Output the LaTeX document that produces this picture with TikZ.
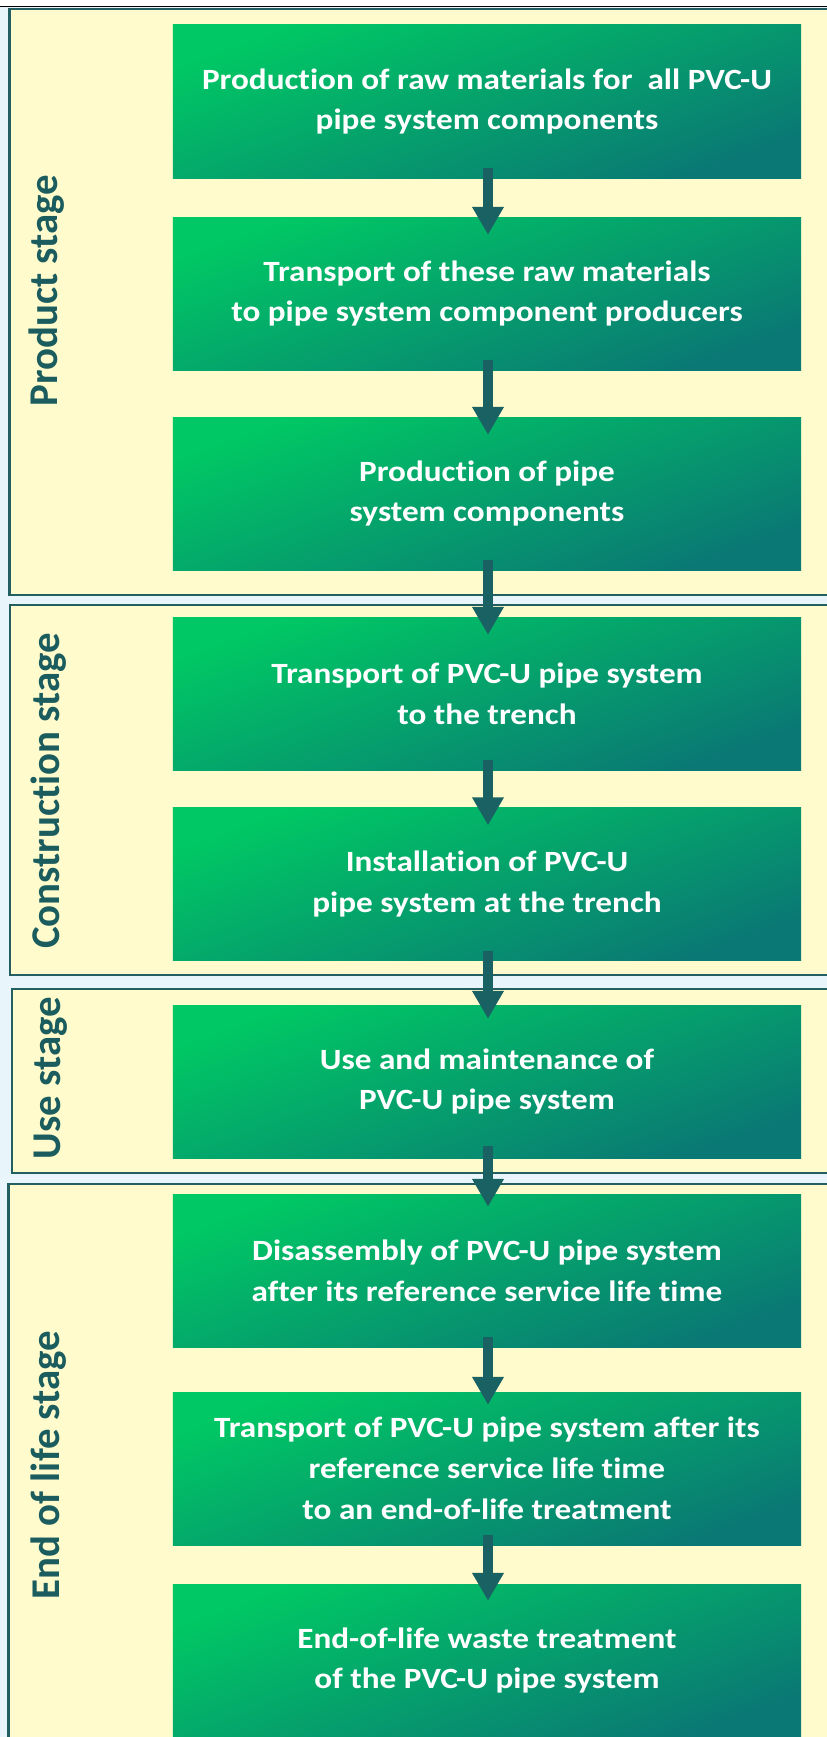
\documentclass[tikz,border=0pt]{standalone}
\usepackage{fontspec}
\setmainfont{Carlito}[Ligatures=NoCommon]
\newfontfamily\boxfont{Carlito}[FakeStretch=1.13,Ligatures=NoCommon]
\usetikzlibrary{arrows.meta}
\definecolor{panelfill}{HTML}{FFFBCC}
\definecolor{panelline}{HTML}{235E60}
\definecolor{gapblue}{HTML}{E8F6FB}
\definecolor{boxtop}{HTML}{00C864}
\definecolor{boxbot}{HTML}{0A7874}
\definecolor{arrowcol}{HTML}{1A6163}
\definecolor{labelcol}{HTML}{1B5C5E}
\begin{document}
\begin{tikzpicture}[x=1bp,y=-1bp,
  stepbox/.style={rectangle, minimum width=628bp, minimum height=153bp, inner sep=0pt,
    top color=boxtop, bottom color=boxbot, shading angle=20, text=white, align=center,
    font=\boxfont\bfseries\fontsize{29.5}{41}\selectfont},
  stagelabel/.style={rotate=90, anchor=base, text=labelcol, inner sep=0pt,
    font=\bfseries\fontsize{41}{50}\selectfont},
  panel/.style={fill=panelfill, draw=panelline, line width=2.2bp},
  flow/.style={draw=arrowcol, line width=10bp, -{Triangle[width=30bp,length=28bp]}}
]
\useasboundingbox (0,0) rectangle (827,1737);
\fill[gapblue] (0,0) rectangle (827,1737);
\fill[white] (0,0) rectangle (827,5.5);
\draw[black, line width=1bp] (0,6) -- (827,6);
\begin{scope}
\clip (0,0) rectangle (827,1737);
\draw[panel] (9.5,9) rectangle (840,595);
\draw[panel] (10,605) rectangle (840,975);
\draw[panel] (12,989) rectangle (840,1173);
\draw[panel] (8.5,1184) rectangle (840,1760);
\end{scope}

\node[stepbox] (b1) at (487,101.5) {Production of raw materials for\ \ all PVC-U\\pipe system components};
\node[stepbox] (b2) at (487,293.5) {Transport of these raw materials\\to pipe system component producers};
\node[stepbox] (b3) at (487,493.5) {Production of pipe\\system components};
\node[stepbox] (b4) at (487,693.5) {Transport of PVC-U pipe system\\to the trench};
\node[stepbox] (b5) at (487,884) {Installation of PVC-U\\pipe system at the trench};
\node[stepbox] (b6) at (487,1081.5) {Use and maintenance of\\PVC-U pipe system};
\node[stepbox] (b7) at (487,1270.5) {Disassembly of PVC-U pipe system\\after its reference service life time};
\node[stepbox] (b8) at (487,1468.5) {Transport of PVC-U pipe system after its\\reference service life time\\to an end-of-life treatment};
\node[stepbox] (b9) at (487,1660.5) {End-of-life waste treatment\\of the PVC-U pipe system};

\node[stagelabel] (l1) at (57,290.5) {Product stage};
\node[stagelabel] (l2) at (59,791) {Construction stage};
\node[stagelabel] (l3) at (60,1078) {Use stage};
\node[stagelabel] (l4) at (59,1465) {End of life stage};

\draw[flow] ([xshift=1bp,yshift=10bp]b1.south) -- ([xshift=1bp,yshift=-18bp]b2.north);
\draw[flow] ([xshift=1bp,yshift=10bp]b2.south) -- ([xshift=1bp,yshift=-18bp]b3.north);
\draw[flow] ([xshift=1bp,yshift=10bp]b3.south) -- ([xshift=1bp,yshift=-18bp]b4.north);
\draw[flow] ([xshift=1bp,yshift=10bp]b4.south) -- ([xshift=1bp,yshift=-18bp]b5.north);
\draw[flow] ([xshift=1bp,yshift=10bp]b5.south) -- ([xshift=1bp,yshift=-14bp]b6.north);
\draw[flow] ([xshift=1bp,yshift=12bp]b6.south) -- ([xshift=1bp,yshift=-13bp]b7.north);
\draw[flow] ([xshift=1bp,yshift=10bp]b7.south) -- ([xshift=1bp,yshift=-13bp]b8.north);
\draw[flow] ([xshift=1bp,yshift=10bp]b8.south) -- ([xshift=1bp,yshift=-17bp]b9.north);
\end{tikzpicture}
\end{document}
